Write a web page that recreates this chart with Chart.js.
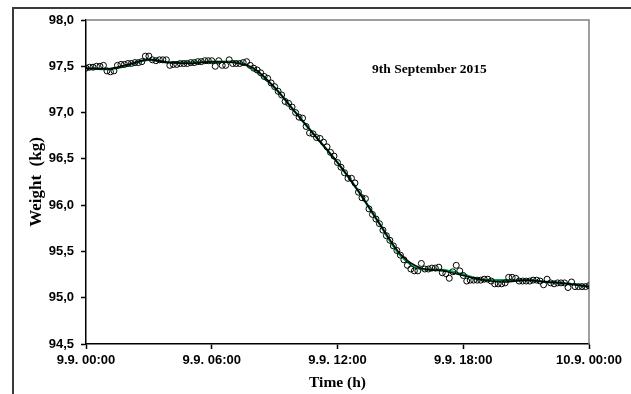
<!DOCTYPE html>
<html>
<head>
<meta charset="utf-8">
<script src="https://cdn.jsdelivr.net/npm/chart.js@4"></script>
<style>
  body { margin: 0; background: #fff; }
</style>
</head>
<body>
<canvas id="weightChart" width="631" height="394"></canvas>
<script>
// measured weight, one reading every 10 minutes from 9.9. 00:00 to 10.9. 00:00
const sampleStepMin = 10;
const weightKg = [
  97.48, 97.49, 97.49, 97.50, 97.50, 97.51, 97.45, 97.44, 97.45, 97.51,
  97.52, 97.52, 97.53, 97.53, 97.54, 97.54, 97.55, 97.61, 97.61, 97.57,
  97.56, 97.57, 97.57, 97.57, 97.51, 97.52, 97.52, 97.53, 97.53, 97.53,
  97.54, 97.54, 97.55, 97.55, 97.56, 97.56, 97.56, 97.50, 97.56, 97.51,
  97.51, 97.57, 97.53, 97.53, 97.53, 97.54, 97.55, 97.51, 97.48, 97.46,
  97.43, 97.39, 97.37, 97.32, 97.28, 97.23, 97.19, 97.12, 97.10, 97.06,
  97.00, 96.95, 96.94, 96.85, 96.78, 96.77, 96.73, 96.72, 96.68, 96.63,
  96.57, 96.53, 96.46, 96.41, 96.35, 96.29, 96.29, 96.24, 96.14, 96.08,
  96.07, 95.96, 95.90, 95.85, 95.80, 95.73, 95.67, 95.62, 95.56, 95.51,
  95.46, 95.41, 95.35, 95.31, 95.29, 95.29, 95.37, 95.31, 95.31, 95.32,
  95.32, 95.33, 95.27, 95.26, 95.21, 95.28, 95.35, 95.29, 95.24, 95.18,
  95.19, 95.19, 95.19, 95.19, 95.20, 95.20, 95.18, 95.15, 95.15, 95.15,
  95.16, 95.22, 95.22, 95.21, 95.18, 95.18, 95.18, 95.18, 95.19, 95.19,
  95.18, 95.14, 95.20, 95.16, 95.15, 95.16, 95.16, 95.16, 95.11, 95.17,
  95.12, 95.12, 95.12, 95.12, 95.13
];

// smoothed curves, read hourly
const fitHours = [0, 1, 2, 3, 4, 5, 6, 7, 8, 9, 10, 11, 12, 13, 14, 15, 16, 17, 18, 19, 20, 21, 22, 23, 24];
const fitBlack = [97.48, 97.47, 97.52, 97.57, 97.54, 97.53, 97.55, 97.54, 97.48, 97.27, 97.00, 96.73, 96.46,
                  96.15, 95.80, 95.47, 95.32, 95.29, 95.24, 95.19, 95.17, 95.19, 95.17, 95.15, 95.12];
const fitGreen = [97.48, 97.47, 97.51, 97.57, 97.54, 97.54, 97.55, 97.55, 97.47, 97.27, 97.00, 96.73, 96.46,
                  96.15, 95.80, 95.46, 95.31, 95.30, 95.25, 95.19, 95.19, 95.19, 95.17, 95.15, 95.12];

const xTickLabels = ['9.9. 00:00', '9.9. 06:00', '9.9. 12:00', '9.9. 18:00', '10.9. 00:00'];
const chartNote = '9th September 2015';

const sampleHours = weightKg.map((w, i) => i * sampleStepMin / 60);

// frame round the figure, grey top/right edge of the plot, and the date note
const extras = {
  id: 'extras',
  beforeDraw(chart) {
    const ctx = chart.ctx;
    ctx.save();
    ctx.strokeStyle = '#3a3a3a';
    ctx.lineWidth = 2;
    ctx.beginPath();
    ctx.moveTo(13, 394);
    ctx.lineTo(13, 8);
    ctx.lineTo(631, 8);
    ctx.stroke();
    ctx.restore();
  },
  beforeDatasetsDraw(chart) {
    const a = chart.chartArea;
    const ctx = chart.ctx;
    ctx.save();
    ctx.strokeStyle = '#7f7f7f';
    ctx.lineWidth = 1.5;
    ctx.beginPath();
    ctx.moveTo(a.left, a.top);
    ctx.lineTo(a.right, a.top);
    ctx.lineTo(a.right, a.bottom);
    ctx.stroke();

    ctx.fillStyle = '#000';
    ctx.font = 'bold 13.5px "Liberation Serif", "Times New Roman", serif';
    ctx.textAlign = 'left';
    ctx.textBaseline = 'middle';
    ctx.fillText(chartNote, chart.scales.x.getPixelForValue(13.65), chart.scales.y.getPixelForValue(97.47));
    ctx.restore();
  }
};

const tickFont = { family: '"Liberation Sans", Arial, sans-serif', size: 13, weight: 'bold' };
const titleFamily = '"Liberation Serif", "Times New Roman", serif';

new Chart(document.getElementById('weightChart'), {
  type: 'scatter',
  data: {
    datasets: [
      {
        label: 'measured',
        data: sampleHours.map((h, i) => ({ x: h, y: weightKg[i] })),
        showLine: false,
        pointRadius: 3,
        pointBorderWidth: 1,
        pointBorderColor: '#000',
        pointBackgroundColor: 'rgba(0,0,0,0)'
      },
      {
        label: 'fit',
        data: fitHours.map((h, i) => ({ x: h, y: fitBlack[i] })),
        showLine: true,
        borderColor: '#000',
        borderWidth: 1.5,
        pointRadius: 0,
        cubicInterpolationMode: 'monotone'
      },
      {
        label: 'smooth',
        data: fitHours.map((h, i) => ({ x: h, y: fitGreen[i] })),
        showLine: true,
        borderColor: '#00a651',
        borderWidth: 2.5,
        pointRadius: 0,
        cubicInterpolationMode: 'monotone'
      }
    ]
  },
  options: {
    responsive: false,
    animation: false,
    events: [],
    layout: { padding: { left: 0, top: 20, right: 42, bottom: 0 } },
    plugins: { legend: { display: false }, tooltip: { enabled: false } },
    scales: {
      x: {
        type: 'linear',
        min: 0,
        max: 24,
        afterFit(scale) { scale.height = 50; },
        afterBuildTicks(scale) { scale.ticks = xTickLabels.map((l, i) => ({ value: i * 6 })); },
        ticks: {
          color: '#000',
          font: tickFont,
          padding: 4,
          maxRotation: 0,
          callback: (v) => xTickLabels[Math.round(v / 6)]
        },
        grid: { drawOnChartArea: false, drawTicks: true, tickLength: 5, color: '#000', tickWidth: 1.5 },
        border: { display: true, color: '#000', width: 1.5 },
        title: {
          display: true,
          text: 'Time (h)',
          color: '#000',
          font: { family: titleFamily, size: 15.5, weight: 'bold' },
          padding: { top: 2, bottom: 2 }
        }
      },
      y: {
        min: 94.5,
        max: 98,
        afterFit(scale) { scale.width = 86; },
        ticks: {
          stepSize: 0.5,
          color: '#000',
          font: tickFont,
          padding: 7,
          callback: (v) => v.toFixed(1).replace('.', ',')
        },
        grid: { drawOnChartArea: false, drawTicks: true, tickLength: 5, color: '#000', tickWidth: 1.5 },
        border: { display: true, color: '#000', width: 1.5 },
        title: {
          display: true,
          text: 'Weight  (kg)',
          color: '#000',
          font: { family: titleFamily, size: 17, weight: 'bold' },
          padding: { top: 26, bottom: 0 }
        }
      }
    }
  },
  plugins: [extras]
});
</script>
</body>
</html>
